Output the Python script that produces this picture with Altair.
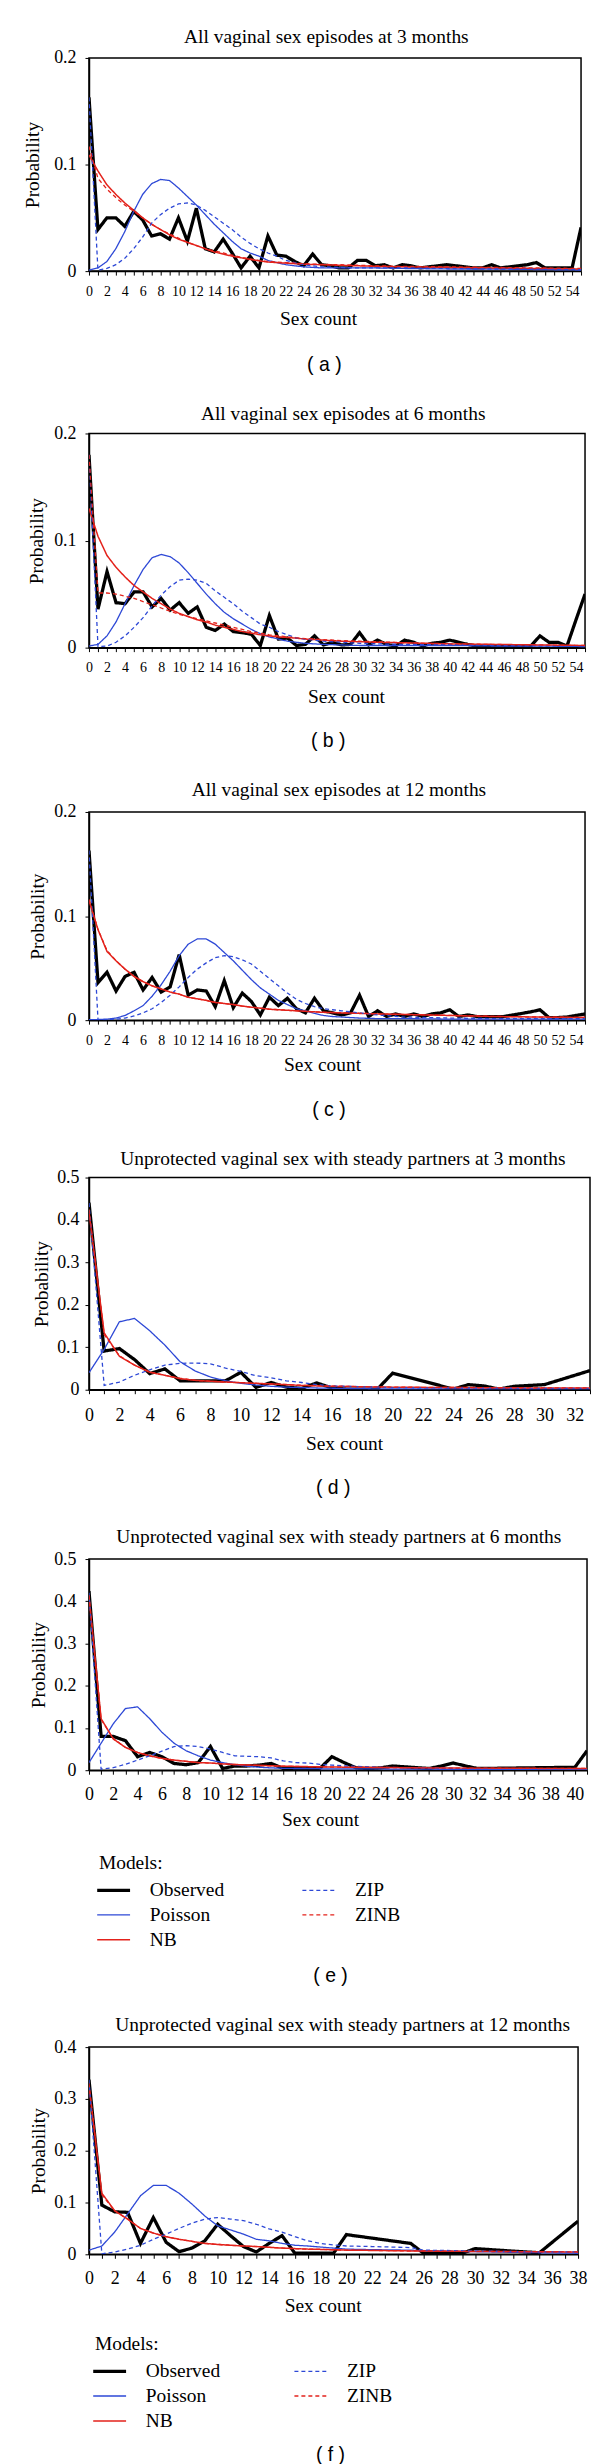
import altair as alt
import pandas as pd

SERIF = "Liberation Serif"
SANS = "Liberation Sans"

# legend order (column-major, 2 columns x 3 rows) and drawing order
LEGEND_ORDER = ["Observed", "Poisson", "NB", "ZIP", "ZINB"]
DRAW_ORDER = ["Observed", "Poisson", "NB", "ZIP", "ZINB"]
BLUE = "#2d48d6"
RED = "#e3221b"
COLOR_RANGE = ["#000000", BLUE, RED, BLUE, RED]
DASH_RANGE = [[1, 0], [1, 0], [1, 0], [4, 3], [4, 3]]
WIDTH_RANGE = [3.3, 1.3, 1.5, 1.3, 1.3]

# ---------------- panel (a) ----------------
a_obs_x = list(range(0, 56))
a_obs = [0.163, 0.039, 0.050, 0.050, 0.042, 0.056, 0.048, 0.033, 0.035, 0.030,
         0.050, 0.028, 0.059, 0.021, 0.018, 0.030, 0.017, 0.003, 0.014, 0.003,
         0.033, 0.015, 0.014, 0.009, 0.005, 0.016, 0.006, 0.005, 0.003, 0.003,
         0.010, 0.010, 0.005, 0.006, 0.003, 0.006, 0.005, 0.003, 0.004, 0.005,
         0.006, 0.005, 0.004, 0.003, 0.003, 0.006, 0.003, 0.004, 0.005, 0.006,
         0.008, 0.003, 0.003, 0.003, 0.003, 0.041]
a_mod_x = list(range(0, 27)) + [28, 30, 32, 35, 40, 45, 50, 55]
a_pois = [0.001, 0.003, 0.009, 0.021, 0.037, 0.056, 0.072, 0.082, 0.086, 0.085,
          0.078, 0.070, 0.062, 0.053, 0.044, 0.036, 0.028, 0.021, 0.017, 0.014,
          0.010, 0.008, 0.006, 0.005, 0.004, 0.0035, 0.003,
          0.003, 0.003, 0.003, 0.0025, 0.002, 0.002, 0.0015, 0.001]
a_zip = [0.163, 0.001, 0.0025, 0.006, 0.012, 0.021, 0.032, 0.045, 0.053, 0.059,
         0.063, 0.064, 0.062, 0.057, 0.051, 0.045, 0.039, 0.032, 0.026, 0.021,
         0.017, 0.014, 0.010, 0.008, 0.006, 0.005, 0.004,
         0.0035, 0.003, 0.003, 0.003, 0.0025, 0.002, 0.002, 0.0015]
a_nb = [0.109, 0.094, 0.081, 0.072, 0.064, 0.057, 0.050, 0.044, 0.039, 0.034,
        0.030, 0.027, 0.024, 0.021, 0.018, 0.016, 0.014, 0.0125, 0.011, 0.0097,
        0.0085, 0.008, 0.0075, 0.007, 0.0065, 0.0062, 0.006,
        0.0055, 0.005, 0.0045, 0.004, 0.0035, 0.003, 0.0025, 0.002]
a_zinb = [0.117, 0.087, 0.077, 0.069, 0.062, 0.056, 0.050, 0.044, 0.039, 0.035,
          0.031, 0.027, 0.024, 0.021, 0.019, 0.017, 0.015, 0.013, 0.0115, 0.010,
          0.009, 0.0085, 0.008, 0.0075, 0.007, 0.0066, 0.0063,
          0.006, 0.0055, 0.005, 0.0045, 0.004, 0.0035, 0.003, 0.0025]

# ---------------- panel (b) ----------------
b_obs_x = list(range(0, 56))
b_obs = [0.180, 0.036, 0.071, 0.042, 0.041, 0.052, 0.052, 0.038, 0.046, 0.035,
         0.042, 0.032, 0.038, 0.019, 0.016, 0.022, 0.015, 0.014, 0.0125, 0.002,
         0.030, 0.008, 0.009, 0.002, 0.003, 0.011, 0.0025, 0.005, 0.0025, 0.003,
         0.014, 0.0025, 0.007, 0.003, 0.0015, 0.007, 0.005, 0.0015, 0.004, 0.005,
         0.007, 0.005, 0.003, 0.0015, 0.0015, 0.0015, 0.0015, 0.0015, 0.0015, 0.0015,
         0.011, 0.005, 0.005, 0.0015, 0.026, 0.050]
b_mod_x = list(range(0, 27)) + [28, 30, 32, 35, 40, 45, 50, 55]
b_pois = [0.0015, 0.003, 0.011, 0.024, 0.041, 0.058, 0.073, 0.084, 0.087, 0.085,
          0.079, 0.070, 0.060, 0.050, 0.041, 0.033, 0.027, 0.022, 0.017, 0.013,
          0.010, 0.008, 0.006, 0.005, 0.004, 0.0035, 0.003,
          0.0025, 0.002, 0.002, 0.002, 0.002, 0.0015, 0.0015, 0.001]
b_zip = [0.180, 0.001, 0.0015, 0.005, 0.011, 0.019, 0.028, 0.039, 0.049, 0.057,
         0.063, 0.064, 0.063, 0.060, 0.053, 0.047, 0.041, 0.034, 0.028, 0.022,
         0.019, 0.015, 0.012, 0.009, 0.008, 0.007, 0.006,
         0.005, 0.004, 0.0035, 0.003, 0.003, 0.002, 0.0015, 0.001]
b_nb = [0.130, 0.104, 0.086, 0.075, 0.066, 0.058, 0.052, 0.046, 0.041, 0.036,
        0.032, 0.029, 0.026, 0.024, 0.021, 0.019, 0.017, 0.015, 0.0135, 0.012,
        0.011, 0.010, 0.0095, 0.0088, 0.008, 0.0075, 0.007,
        0.006, 0.0055, 0.005, 0.0045, 0.0035, 0.003, 0.0025, 0.002]
b_zinb = [0.180, 0.051, 0.051, 0.050, 0.048, 0.046, 0.043, 0.040, 0.037, 0.034,
          0.031, 0.029, 0.027, 0.025, 0.023, 0.021, 0.019, 0.017, 0.015, 0.0135,
          0.012, 0.011, 0.010, 0.0092, 0.0085, 0.008, 0.0075,
          0.0065, 0.006, 0.0055, 0.0045, 0.0035, 0.003, 0.0025, 0.002]

# ---------------- panel (c) ----------------
c_obs_x = list(range(0, 56))
c_obs = [0.163, 0.036, 0.046, 0.028, 0.042, 0.046, 0.029, 0.041, 0.027, 0.032,
         0.063, 0.024, 0.029, 0.028, 0.013, 0.038, 0.012, 0.026, 0.018, 0.005,
         0.022, 0.014, 0.021, 0.011, 0.007, 0.021, 0.009, 0.007, 0.005, 0.007,
         0.024, 0.0035, 0.009, 0.0035, 0.006, 0.0035, 0.006, 0.0035, 0.006, 0.007,
         0.010, 0.0035, 0.005, 0.0035, 0.0035, 0.0035, 0.0035, 0.005, 0.0065, 0.008,
         0.010, 0.0025, 0.0025, 0.003, 0.0045, 0.006]
c_mod_x = list(range(0, 31)) + [32, 35, 40, 45, 50, 55]
c_pois = [0.0006, 0.0006, 0.001, 0.002, 0.0045, 0.009, 0.014, 0.023, 0.034, 0.047,
          0.062, 0.073, 0.078, 0.078, 0.073, 0.065, 0.057, 0.048, 0.039, 0.031,
          0.025, 0.019, 0.015, 0.011, 0.009, 0.0065, 0.0045, 0.0035, 0.003, 0.0025,
          0.002, 0.0015, 0.0015, 0.001, 0.001, 0.001, 0.001]
c_zip = [0.163, 0.0005, 0.0005, 0.001, 0.002, 0.004, 0.007, 0.011, 0.017, 0.024,
         0.032, 0.041, 0.049, 0.055, 0.060, 0.062, 0.061, 0.058, 0.054, 0.047,
         0.040, 0.033, 0.026, 0.020, 0.016, 0.013, 0.011, 0.010, 0.009, 0.008,
         0.007, 0.005, 0.003, 0.002, 0.0015, 0.0015, 0.0015]
c_nb = [0.115, 0.087, 0.066, 0.057, 0.049, 0.042, 0.037, 0.033, 0.030, 0.027,
        0.025, 0.022, 0.0205, 0.019, 0.017, 0.016, 0.015, 0.0135, 0.0125, 0.0115,
        0.0105, 0.010, 0.0095, 0.009, 0.0085, 0.008, 0.0075, 0.0073, 0.007, 0.0068,
        0.0065, 0.006, 0.0055, 0.0045, 0.0035, 0.003, 0.0025]
c_zinb = [0.116, 0.087, 0.067, 0.057, 0.049, 0.042, 0.037, 0.033, 0.030, 0.027,
          0.025, 0.022, 0.0205, 0.019, 0.017, 0.016, 0.015, 0.0135, 0.0125, 0.0115,
          0.0105, 0.010, 0.0095, 0.009, 0.0085, 0.008, 0.0076, 0.0073, 0.007, 0.0068,
          0.0066, 0.006, 0.0055, 0.0046, 0.0036, 0.003, 0.0026]

# ---------------- panel (d) ----------------
d_obs_x = list(range(0, 21)) + [24, 25, 26, 27, 28, 30, 33]
d_obs = [0.441, 0.091, 0.097, 0.071, 0.038, 0.049, 0.021, 0.021, 0.021, 0.021,
         0.041, 0.0055, 0.017, 0.006, 0.003, 0.016, 0.004, 0.0015, 0.0015, 0.0015,
         0.039, 0.0015, 0.012, 0.009, 0.0015, 0.008, 0.012, 0.045]
d_mod_x = list(range(0, 21)) + [22, 25, 30, 33]
d_pois = [0.040, 0.095, 0.160, 0.168, 0.139, 0.105, 0.066, 0.044, 0.030, 0.021,
          0.015, 0.011, 0.008, 0.006, 0.005, 0.004, 0.0035, 0.003, 0.0025, 0.002,
          0.002, 0.002, 0.002, 0.002, 0.002]
d_zip = [0.440, 0.010, 0.018, 0.034, 0.047, 0.058, 0.062, 0.063, 0.061, 0.051,
         0.043, 0.033, 0.028, 0.021, 0.017, 0.012, 0.009, 0.008, 0.007, 0.006,
         0.005, 0.0045, 0.004, 0.003, 0.003]
d_nb = [0.419, 0.134, 0.079, 0.058, 0.041, 0.034, 0.026, 0.022, 0.020, 0.018,
        0.0165, 0.015, 0.0135, 0.012, 0.010, 0.009, 0.008, 0.0075, 0.007, 0.0065,
        0.006, 0.0055, 0.005, 0.004, 0.004]
d_zinb = [0.425, 0.130, 0.080, 0.058, 0.042, 0.034, 0.027, 0.022, 0.020, 0.018,
          0.0165, 0.015, 0.0135, 0.012, 0.0105, 0.0095, 0.0085, 0.008, 0.0072, 0.0066,
          0.006, 0.0056, 0.005, 0.0042, 0.004]

# ---------------- panel (e) ----------------
e_obs_x = list(range(0, 33)) + [40, 41]
e_obs = [0.424, 0.080, 0.080, 0.070, 0.032, 0.042, 0.032, 0.016, 0.013, 0.018,
         0.056, 0.004, 0.010, 0.010, 0.012, 0.016, 0.004, 0.004, 0.004, 0.004,
         0.032, 0.018, 0.0055, 0.004, 0.0055, 0.010, 0.008, 0.006, 0.004, 0.010,
         0.017, 0.010, 0.004, 0.007, 0.046]
e_mod_x = list(range(0, 21)) + [22, 24, 26, 28, 30, 35, 41]
e_pois = [0.018, 0.064, 0.110, 0.146, 0.150, 0.122, 0.090, 0.064, 0.046, 0.034,
          0.024, 0.018, 0.013, 0.0095, 0.007, 0.0055, 0.0045, 0.004, 0.004, 0.0035,
          0.003, 0.003, 0.003, 0.0025, 0.0025, 0.002, 0.002, 0.002]
e_zip = [0.420, 0.0025, 0.006, 0.014, 0.024, 0.034, 0.045, 0.056, 0.058, 0.056,
         0.050, 0.042, 0.034, 0.033, 0.032, 0.029, 0.022, 0.018, 0.017, 0.014,
         0.012, 0.009, 0.007, 0.006, 0.005, 0.004, 0.003, 0.003]
e_nb = [0.410, 0.122, 0.074, 0.054, 0.042, 0.034, 0.028, 0.024, 0.021, 0.018,
        0.017, 0.015, 0.0135, 0.0125, 0.0115, 0.0105, 0.0095, 0.009, 0.0085, 0.008,
        0.0075, 0.007, 0.0065, 0.006, 0.0055, 0.005, 0.0045, 0.004]
e_zinb = [0.415, 0.120, 0.075, 0.054, 0.042, 0.034, 0.028, 0.024, 0.021, 0.018,
          0.017, 0.015, 0.0135, 0.0125, 0.0115, 0.0105, 0.0095, 0.009, 0.0085, 0.008,
          0.0075, 0.007, 0.0065, 0.006, 0.0055, 0.005, 0.0045, 0.004]

# ---------------- panel (f) ----------------
f_obs_x = list(range(0, 17)) + [19, 20, 25, 26, 29, 30, 33, 35, 38]
f_obs = [0.337, 0.095, 0.082, 0.081, 0.021, 0.071, 0.023, 0.005, 0.012, 0.026,
         0.058, 0.036, 0.015, 0.0045, 0.021, 0.036, 0.002,
         0.002, 0.038, 0.021, 0.002, 0.002, 0.011, 0.006, 0.003, 0.064]
f_mod_x = list(range(0, 21)) + [22, 25, 26, 30, 35, 38]
f_pois = [0.008, 0.016, 0.043, 0.078, 0.113, 0.133, 0.133, 0.118, 0.097, 0.074,
          0.055, 0.047, 0.039, 0.029, 0.026, 0.021, 0.0175, 0.016, 0.014, 0.012,
          0.010, 0.009, 0.008, 0.007, 0.005, 0.003, 0.002]
f_zip = [0.337, 0.001, 0.0045, 0.010, 0.0175, 0.029, 0.039, 0.050, 0.060, 0.068,
         0.071, 0.068, 0.065, 0.058, 0.049, 0.043, 0.034, 0.026, 0.021, 0.018,
         0.016, 0.015, 0.013, 0.008, 0.0065, 0.0045, 0.0045]
f_nb = [0.324, 0.118, 0.084, 0.068, 0.050, 0.041, 0.034, 0.029, 0.025, 0.021,
        0.019, 0.0175, 0.016, 0.015, 0.0135, 0.012, 0.011, 0.010, 0.0095, 0.0088,
        0.008, 0.0075, 0.0065, 0.0063, 0.0055, 0.005, 0.0045]
f_zinb = [0.330, 0.115, 0.084, 0.068, 0.050, 0.041, 0.034, 0.029, 0.025, 0.021,
          0.019, 0.0175, 0.016, 0.015, 0.0135, 0.012, 0.011, 0.010, 0.0095, 0.0088,
          0.008, 0.0075, 0.0066, 0.0064, 0.0056, 0.005, 0.0046]

TITLES = [
    "All vaginal sex episodes at 3 months",
    "All vaginal sex episodes at 6 months",
    "All vaginal sex episodes at 12 months",
    "Unprotected vaginal sex with steady partners at 3 months",
    "Unprotected vaginal sex with steady partners at 6 months",
    "Unprotected vaginal sex with steady partners at 12 months",
]
CAPTIONS = ["( a )", "( b )", "( c )", "( d )", "( e )", "( f )"]


def build_df(obs_x, obs, mod_x, pois, nb, zip_, zinb):
    rows = []
    for name, xs, ys in [("Observed", obs_x, obs), ("Poisson", mod_x, pois),
                         ("NB", mod_x, nb), ("ZIP", mod_x, zip_), ("ZINB", mod_x, zinb)]:
        assert len(xs) == len(ys), (name, len(xs), len(ys))
        rows += [{"model": name, "x": x, "p": y} for x, y in zip(xs, ys)]
    return pd.DataFrame(rows)


# layout of each panel (pixels, relative to its plot area)
PANELS = [
    dict(df=build_df(a_obs_x, a_obs, a_mod_x, a_pois, a_nb, a_zip, a_zinb),
         xmax=55, ymax=0.2, yticks=[0, 0.1, 0.2], left=87.7, w=494, h=214, xfs=14,
         lp=9.6, ylp=9, t_x=238.3, t_dy=21, sc_x=230, sc_dy=48, cap_dy=94, legend=None),
    dict(df=build_df(b_obs_x, b_obs, b_mod_x, b_pois, b_nb, b_zip, b_zinb),
         xmax=55, ymax=0.2, yticks=[0, 0.1, 0.2], left=83.8, w=498, h=215, xfs=14,
         lp=8.6, ylp=9, t_x=255.2, t_dy=20, sc_x=258, sc_dy=49, cap_dy=94, legend=None),
    dict(df=build_df(c_obs_x, c_obs, c_mod_x, c_pois, c_nb, c_zip, c_zinb),
         xmax=55, ymax=0.2, yticks=[0, 0.1, 0.2], left=83.1, w=498, h=209, xfs=14,
         lp=9.6, ylp=9, t_x=251, t_dy=22, sc_x=234, sc_dy=45, cap_dy=90.5, legend=None),
    dict(df=build_df(d_obs_x, d_obs, d_mod_x, d_pois, d_nb, d_zip, d_zinb),
         xmax=33, ymax=0.5, yticks=[0, 0.1, 0.2, 0.3, 0.4, 0.5], left=78.8, w=503, h=213, xfs=18,
         lp=12.7, ylp=6, t_x=254.9, t_dy=19, sc_x=256, sc_dy=54, cap_dy=99, legend=None),
    dict(df=build_df(e_obs_x, e_obs, e_mod_x, e_pois, e_nb, e_zip, e_zinb),
         xmax=41, ymax=0.5, yticks=[0, 0.1, 0.2, 0.3, 0.4, 0.5], left=81.5, w=500, h=212, xfs=18,
         lp=11.7, ylp=9, t_x=250.8, t_dy=22, sc_x=232, sc_dy=50, cap_dy=207,
         legend=dict(x=10, y=296, colpad=75)),
    dict(df=build_df(f_obs_x, f_obs, f_mod_x, f_pois, f_nb, f_zip, f_zinb),
         xmax=38, ymax=0.4, yticks=[0, 0.1, 0.2, 0.3, 0.4], left=81.5, w=491, h=208, xfs=18,
         lp=11.7, ylp=9, t_x=254.7, t_dy=22, sc_x=234.6, sc_dy=51, cap_dy=202,
         legend=dict(x=6, y=289, colpad=71)),
]
YTITLE_X = 31     # page x of the "Probability" titles
CAPTION_X = 324   # page x of the "( a )" captions
FS = 19.5


def make_panel(cfg, title, caption):
    if cfg["legend"] is not None:
        lg = cfg["legend"]
        legend = alt.Legend(
            title="Models:", orient="none", legendX=lg["x"], legendY=lg["y"],
            columns=2, direction="vertical",
            symbolType="M-2.3,0L4.3,0", symbolSize=100,
            labelFont=SERIF, labelFontSize=FS, labelColor="black", labelOffset=31.5,
            titleFont=SERIF, titleFontSize=FS, titleFontWeight="normal",
            titleColor="black", titlePadding=7, padding=0,
            columnPadding=lg["colpad"], rowPadding=4,
        )
    else:
        legend = None

    xax = alt.Axis(
        values=list(range(0, cfg["xmax"] + 1)),
        labelExpr="datum.value % 2 === 0 ? datum.label : ''",
        format="d", labelOverlap=False, labelFlush=False, labelBound=False,
        title="Sex count", grid=False, tickSize=4,
        labelFont=SERIF, labelFontSize=cfg["xfs"], labelColor="black",
        labelPadding=cfg["lp"],
        titleFont=SERIF, titleFontSize=FS, titleFontWeight="normal", titleColor="black",
        titleX=cfg["sc_x"], titleY=cfg["sc_dy"], titleBaseline="middle", titleAlign="center",
    )
    yax = alt.Axis(
        values=cfg["yticks"], format="~g", title="Probability", grid=False,
        tickSize=4, labelPadding=cfg["ylp"],
        labelFont=SERIF, labelFontSize=18, labelColor="black",
        titleFont=SERIF, titleFontSize=FS, titleFontWeight="normal", titleColor="black",
        titleX=YTITLE_X - cfg["left"], titleY=cfg["h"] / 2, titleAngle=270,
        titleBaseline="middle", titleAlign="center",
    )
    enc = dict(
        x=alt.X("x:Q", scale=alt.Scale(domain=[0, cfg["xmax"]], nice=False, zero=False), axis=xax),
        y=alt.Y("p:Q", scale=alt.Scale(domain=[0, cfg["ymax"]], nice=False), axis=yax),
        color=alt.Color("model:N", scale=alt.Scale(domain=LEGEND_ORDER, range=COLOR_RANGE), legend=legend),
        strokeDash=alt.StrokeDash("model:N", scale=alt.Scale(domain=LEGEND_ORDER, range=DASH_RANGE), legend=legend),
        strokeWidth=alt.StrokeWidth("model:N", scale=alt.Scale(type="ordinal", domain=LEGEND_ORDER, range=WIDTH_RANGE), legend=legend),
    )
    df = cfg["df"]
    layers = [
        alt.Chart(df[df["model"] == m]).mark_line(clip=True).encode(**enc)
        for m in DRAW_ORDER
    ]
    title_mark = alt.Chart(pd.DataFrame({"t": [title]})).mark_text(
        font=SERIF, fontSize=FS, color="black", baseline="middle", align="center"
    ).encode(text="t:N", x=alt.value(cfg["t_x"]), y=alt.value(-cfg["t_dy"]))
    caption_mark = alt.Chart(pd.DataFrame({"t": [caption]})).mark_text(
        font=SANS, fontSize=FS, color="black", baseline="middle", align="center"
    ).encode(text="t:N", x=alt.value(CAPTION_X - cfg["left"]), y=alt.value(cfg["h"] + cfg["cap_dy"]))
    return alt.layer(*layers, title_mark, caption_mark).properties(width=cfg["w"], height=cfg["h"])


panels = [make_panel(c, t, cp) for c, t, cp in zip(PANELS, TITLES, CAPTIONS)]

chart = alt.vconcat(*panels, spacing=27).resolve_scale(
    color="independent", strokeDash="independent", strokeWidth="independent"
).resolve_legend(
    color="independent", strokeDash="independent", strokeWidth="independent"
).properties(
    padding={"left": 13.3, "top": 13.3, "right": 0, "bottom": 0}
).configure_view(
    stroke="black", strokeWidth=1.5
).configure_axis(
    domainColor="black", domainWidth=1.5, tickColor="black", tickWidth=1
)

chart.save("out.html", embed_options={"renderer": "svg", "actions": False})
